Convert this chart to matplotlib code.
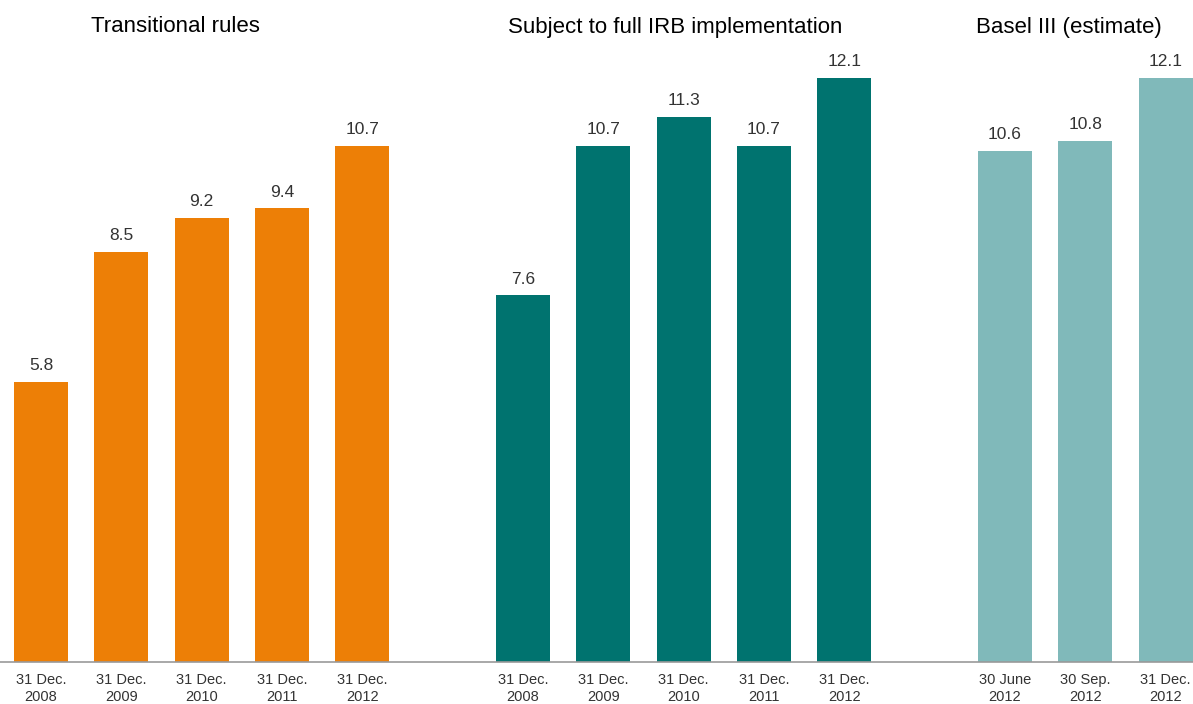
import matplotlib.pyplot as plt

plt.rcParams['font.family'] = ['Liberation Sans', 'DejaVu Sans']

# capital ratios by regime (per cent)
transitional_labels = ["31 Dec.\n2008", "31 Dec.\n2009", "31 Dec.\n2010", "31 Dec.\n2011", "31 Dec.\n2012"]
transitional_values = [5.8, 8.5, 9.2, 9.4, 10.7]

irb_labels = ["31 Dec.\n2008", "31 Dec.\n2009", "31 Dec.\n2010", "31 Dec.\n2011", "31 Dec.\n2012"]
irb_values = [7.6, 10.7, 11.3, 10.7, 12.1]

basel_labels = ["30 June\n2012", "30 Sep.\n2012", "31 Dec.\n2012"]
basel_values = [10.6, 10.8, 12.1]

groups = [
    ("Transitional rules", transitional_labels, transitional_values, "#ED7F06", 0.147),
    ("Subject to full IRB implementation", irb_labels, irb_values, "#00736F", 0.566),
    ("Basel III (estimate)", basel_labels, basel_values, "#80B9BA", 0.896),
]

fig = plt.figure(figsize=(11.93, 7.04), dpi=100)
ax = fig.add_axes([0, 42 / 704, 1, 662 / 704])

ticks, ticklabels = [], []
start = 0
for title, labels, values, color, title_x in groups:
    xs = [start + i for i in range(len(values))]
    ax.bar(xs, values, width=0.67, color=color)
    for x, v in zip(xs, values):
        ax.text(x, v + 0.18, f"{v:.1f}", ha="center", va="bottom", fontsize=12.5, color="#333333")
    fig.text(title_x, 1 - 27 / 704, title, ha="center", va="center", fontsize=16, color="black")
    ticks += xs
    ticklabels += labels
    start += len(values) + 1

ax.set_xlim(-0.51, 14.34)
ax.set_ylim(0, 13.72)
ax.set_xticks(ticks)
ax.set_xticklabels(ticklabels, fontsize=10.5, color="#333333", linespacing=1.3)
ax.tick_params(axis="x", length=0, pad=8)
ax.set_yticks([])
for side in ["top", "right", "left"]:
    ax.spines[side].set_visible(False)
ax.spines["bottom"].set_color("#999999")
ax.spines["bottom"].set_linewidth(1.2)

fig.savefig("out.png", dpi=100)
